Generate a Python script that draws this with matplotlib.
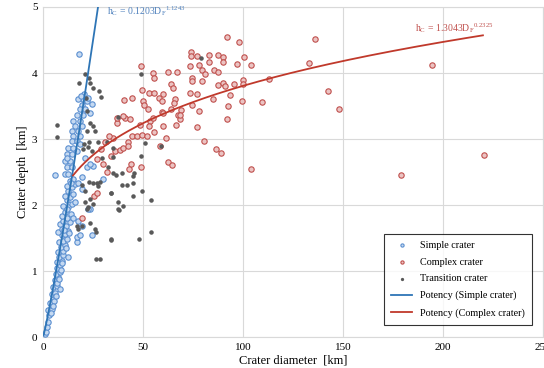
import matplotlib
matplotlib.use('Agg')
import matplotlib.pyplot as plt
import numpy as np

plt.rcParams['font.family'] = ['Liberation Serif', 'DejaVu Serif']
plt.rcParams['mathtext.fontset'] = 'custom'
plt.rcParams['mathtext.rm'] = 'Liberation Serif'
plt.rcParams['mathtext.it'] = 'Liberation Serif'

# simple craters (diameter km, depth km)
simple_d = [1.0, 1.5, 2.2, 2.7, 3.2, 2.7, 4.3, 3.5, 4.8, 4.3, 6.0, 5.2, 6.8, 6.0, 7.7, 6.5, 8.5, 7.2,
            8.5, 6.8, 9.3, 8.2, 9.8, 7.7, 10.2, 8.8, 11.0, 8.2, 10.2, 11.8, 9.3, 11.0, 7.7, 12.7, 9.3,
            11.5, 8.5, 13.5, 10.2, 12.2, 9.3, 13.8, 11.0, 12.7, 10.2, 14.3, 11.8, 13.5, 11.0, 15.2,
            12.7, 14.3, 11.8, 16.0, 13.5, 15.2, 17.7, 19.3, 12.5, 8.5, 16.8, 16.8, 18.5, 19.3, 17.7,
            23.5, 24.3, 30.2, 19.3, 22.7, 5.5, 7.0, 9.0, 10.5, 12.0, 14.0, 3.8, 5.0, 6.3, 8.0, 9.6,
            11.3, 13.0, 14.8, 16.2,
            18.2, 20.2, 17.7, 19.3, 21.8, 24.3, 18.5, 21.0, 16.8, 20.2, 23.5, 15.2, 18.5, 16.0, 19.3,
            14.3, 17.7, 15.2, 18.5, 14.3, 16.8, 12.7, 15.2, 11.8, 14.3, 16.8, 11.0, 13.5, 11.8, 14.3,
            11.0, 12.7, 6.0, 21.8, 25.2, 22.5, 20.5, 19.0, 21.0, 23.5, 18.5, 11.8]
simple_h = [0.05, 0.08, 0.16, 0.23, 0.33, 0.41, 0.43, 0.51, 0.58, 0.66, 0.67, 0.76, 0.78, 0.86, 0.91, 0.96,
            0.98, 1.04, 1.09, 1.14, 1.15, 1.21, 1.24, 1.29, 1.31, 1.36, 1.39, 1.44, 1.46, 1.49, 1.54,
            1.56, 1.59, 1.61, 1.64, 1.69, 1.71, 1.74, 1.76, 1.81, 1.84, 1.87, 1.90, 1.97, 1.99, 2.02,
            2.07, 2.12, 2.14, 2.17, 2.22, 2.27, 2.29, 2.32, 2.37, 2.40, 2.34, 2.42, 1.21, 0.73, 1.44,
            1.51, 1.54, 1.69, 1.76, 1.94, 1.54, 2.40, 2.24, 1.94, 0.55, 0.82, 1.02, 1.62, 1.94, 2.33,
            0.36, 0.47, 0.62, 0.88, 1.12, 1.35, 1.58, 1.80, 2.05,
            4.29, 3.60, 3.60, 3.52, 3.57, 3.53, 3.45, 3.45, 3.37, 3.37, 3.40, 3.27, 3.27, 3.20, 3.20,
            3.12, 3.12, 3.05, 3.05, 2.97, 2.97, 2.87, 2.87, 2.77, 2.77, 2.82, 2.67, 2.67, 2.57, 2.57,
            2.47, 2.47, 2.46, 2.57, 2.59, 3.62, 3.68, 3.65, 2.72, 2.62, 2.92, 2.72]

# complex craters
complex_d = [100.5, 104, 100, 100, 113, 133, 136, 142.5, 148, 109.5, 104, 179, 194.5, 220.5,
             91.8, 98.2, 73.8, 73.8, 77.2, 83.2, 87.7, 89.8, 73.5, 78.2, 83.2, 90.2, 97.2, 49.2,
             55.2, 55.5, 62.7, 66.8, 79.3, 81.0, 85.5, 87.7, 74.3, 74.3, 79.3, 87.7, 90.2, 91.0,
             95.5, 64.0, 65.2, 49.3, 53.2, 55.5, 60.2, 73.5, 77.2, 58.2, 59.3, 66.0, 65.7, 40.5,
             44.3, 49.8, 50.5, 74.3, 85.2, 93.5, 92.7, 78.2, 52.3, 59.3, 60.2, 63.8, 69.0, 67.7,
             68.5, 36.8, 41.0, 43.5, 48.5, 53.5, 55.2, 60.2, 66.3, 92.2, 99.3,
             35.2, 36.0, 38.5, 40.2, 42.7, 42.7, 44.3, 46.8, 49.3, 51.8, 55.5, 61.5, 53.2, 80.7,
             86.5, 88.8, 62.7, 64.3, 58.5, 43.8, 48.8, 43.2, 76.8, 68.5,
             19.3, 25.7, 26.8, 29, 31, 33, 30, 34, 27, 32, 37, 40]
complex_h = [4.25, 4.12, 3.89, 3.83, 3.91, 4.15, 4.52, 3.72, 3.45, 3.56, 2.55, 2.46, 4.12, 2.76,
             4.54, 4.47, 4.32, 4.26, 4.26, 4.27, 4.28, 4.25, 4.10, 4.12, 4.17, 4.17, 4.14, 4.10,
             4.00, 3.93, 4.01, 4.02, 4.04, 3.98, 4.04, 4.02, 3.92, 3.88, 3.88, 3.82, 3.85, 3.80,
             3.84, 3.83, 3.78, 3.75, 3.70, 3.70, 3.68, 3.70, 3.68, 3.62, 3.57, 3.61, 3.55, 3.59,
             3.62, 3.57, 3.52, 3.52, 3.60, 3.66, 3.50, 3.42, 3.45, 3.41, 3.40, 3.46, 3.44, 3.36,
             3.30, 3.25, 3.32, 3.31, 3.21, 3.28, 3.32, 3.20, 3.21, 3.31, 3.57,
             3.01, 2.82, 2.84, 2.86, 2.96, 2.89, 3.05, 3.05, 3.06, 3.05, 3.11, 3.01, 3.19, 2.97,
             2.85, 2.79, 2.65, 2.60, 2.90, 2.62, 2.58, 2.54, 3.18, 3.37,
             1.80, 2.13, 2.19, 2.85, 2.95, 3.05, 2.62, 2.75, 2.70, 2.50, 3.32, 3.35]

# transition craters
trans_d = [21.0, 23.2, 18.2, 23.5, 24.8, 27.8, 28.8, 21.5, 22.2, 6.8, 6.8, 23.5, 25.2, 21.8, 26.0,
           20.5, 23.0, 19.8, 22.5, 24.5, 27.7, 31.8, 35.2, 29.3, 32.7, 37.7,
           23.2, 25.2, 28.5, 27.7, 33.8, 21.0, 23.5, 25.2, 22.7, 16.8, 19.3, 23.5, 17.7, 26.0,
           33.8, 26.5, 28.5, 37.7, 37.7, 19.3, 26.8, 40.2, 38.2, 39.3, 41.8, 45.2, 44.8, 49.3,
           53.8, 53.8, 48.2, 34.0, 21.0, 22.2, 26.5,
           51.0, 58.8, 35.2, 48.8, 34.8, 36.5, 39.3, 45.5, 45.2, 48.8, 78.8, 34.0]
trans_h = [3.99, 3.93, 3.85, 3.85, 3.78, 3.73, 3.64, 3.62, 3.42, 3.22, 3.03, 3.25, 3.20, 3.12, 3.12,
           2.92, 2.95, 2.85, 2.88, 2.82, 2.95, 2.95, 2.87, 2.72, 2.57, 3.33,
           2.35, 2.33, 2.35, 2.29, 2.19, 2.22, 2.09, 2.02, 1.97, 1.69, 1.69, 1.73, 1.64, 1.64,
           1.48, 1.18, 1.18, 2.05, 1.94, 2.31, 2.34, 1.99, 1.92, 2.31, 2.31, 2.33, 2.13, 2.22,
           2.07, 1.59, 1.48, 1.47, 2.04, 1.94, 1.59,
           2.94, 2.90, 2.73, 2.75, 2.49, 2.45, 2.49, 2.49, 2.44, 3.99, 4.22, 2.19]

# power-law fits
simple_coef, simple_exp = 0.1203, 1.1243
complex_coef, complex_exp = 1.3043, 0.2325
simple_range = (0.3, 27.6)
complex_range = (15.0, 220.0)

fig = plt.figure(figsize=(5.44, 3.68), dpi=100)
ax = fig.add_axes([0.079, 0.084, 0.919, 0.897])

ax.scatter(simple_d, simple_h, s=15, facecolor='#c5d9f1', edgecolor='#5b8fd0', linewidth=0.8,
           label='Simple crater', zorder=3)
ax.scatter(complex_d, complex_h, s=15, facecolor='#ebc3c2', edgecolor='#c0504d', linewidth=0.8,
           label='Complex crater', zorder=3)
ax.scatter(trans_d, trans_h, s=5, color='#595959', label='Transition crater', zorder=4)

xs = np.linspace(*simple_range, 200)
ax.plot(xs, simple_coef * xs ** simple_exp, color='#2e75b6', lw=1.3,
        label='Potency (Simple crater)', zorder=5)
xc = np.linspace(*complex_range, 200)
ax.plot(xc, complex_coef * xc ** complex_exp, color='#c0392b', lw=1.3,
        label='Potency (Complex crater)', zorder=5)

ax.text(32, 4.88, r'h$_\mathrm{C}$ = 0.1203D$_\mathrm{F}$$^{1.1243}$', color='#4f81bd', fontsize=7)
ax.text(186, 4.63, r'h$_\mathrm{C}$ = 1.3043D$_\mathrm{F}$$^{0.2325}$', color='#c0504d', fontsize=7)

ax.set_xlim(0, 250)
ax.set_ylim(0, 5)
ax.set_xticks(range(0, 251, 50))
ax.set_yticks(range(0, 6))
ax.grid(color='#d9d9d9', lw=0.8)
ax.set_axisbelow(True)
for s in ax.spines.values():
    s.set_color('#d9d9d9')
ax.tick_params(length=0, labelsize=8, pad=4)
ax.set_xlabel('Crater diameter  [km]', fontsize=9, labelpad=2)
ax.set_ylabel('Crater depth  [km]', fontsize=9, labelpad=2)

leg = ax.legend(loc='lower right', bbox_to_anchor=(0.988, 0.022), fontsize=7.3, frameon=True,
                fancybox=False, edgecolor='black', handlelength=2.0, borderpad=0.7,
                labelspacing=0.75, markerscale=0.6)
leg.get_frame().set_linewidth(0.8)

fig.savefig('out.png', dpi=100)
